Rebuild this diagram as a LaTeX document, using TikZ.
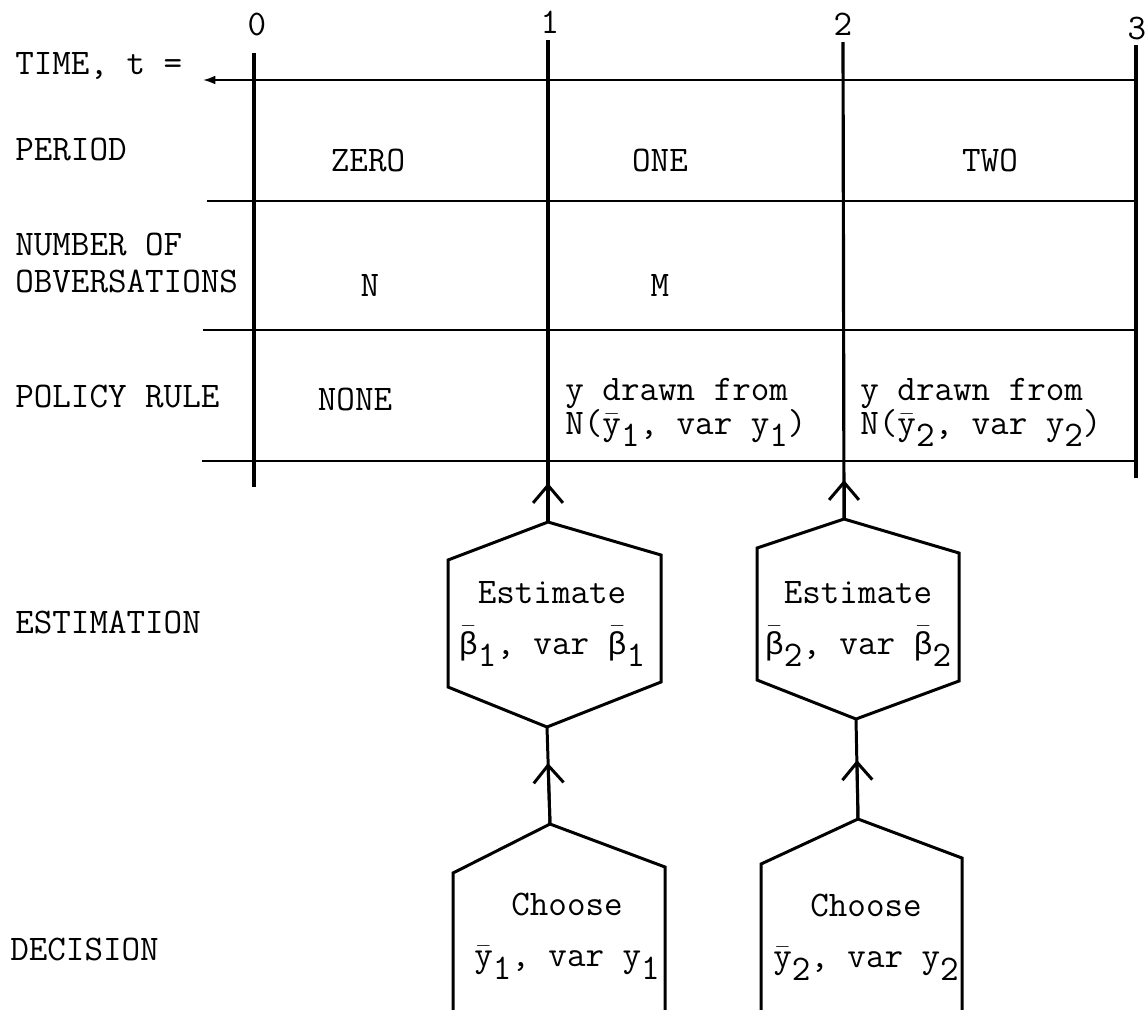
\documentclass[tikz,border=0pt]{standalone}
\usepackage{fontspec}
\newfontfamily\greekf{Liberation Mono}
\usetikzlibrary{arrows.meta}
\newcommand{\ovl}[1]{\ensuremath{\bar{\mbox{#1}}}}
\newcommand{\lo}[1]{\raisebox{-0.35em}{#1}}
\newcommand{\bet}{{\greekf\fontsize{18}{21}\selectfont β}}
\begin{document}
\begin{tikzpicture}[x=0.02cm, y=-0.02cm, font=\ttfamily\fontsize{20.5}{24}\selectfont,
  txt/.style={inner sep=0pt},
  lbl/.style={inner sep=0pt, anchor=base west},
  hline/.style={line width=1.1pt},
  vline/.style={line width=1.8pt},
  box/.style={line width=1.7pt, line join=miter},
  up/.style={line width=1.7pt, -{Straight Barb[length=10pt,width=17pt]}}]
\useasboundingbox (0,0) rectangle (1148,1009);
% time marks
\node[txt] (t0) at (257,24) {0};
\node[txt] (t1) at (550,22) {1};
\node[txt] (t2) at (843,24) {2};
\node[txt] (t3) at (1137,28) {3};
% row labels
\node[lbl] (ltime) at (15,74) {TIME, t =};
\node[lbl] (lperiod) at (15,160) {PERIOD};
\node[lbl] (lnum) at (15,255) {NUMBER OF};
\node[lbl] (lobs) at (15,292) {OBVERSATIONS};
\node[lbl] (lpolicy) at (15,407) {POLICY RULE};
\node[lbl] (lest) at (15,633) {ESTIMATION};
\node[lbl] (ldec) at (10,960) {DECISION};
% table
\coordinate (c0t) at (254,53);
\coordinate (c0b) at (254,487);
\coordinate (c1t) at (548,40);
\coordinate (c2t) at (843,42);
\coordinate (c3t) at (1136,45);
\coordinate (c3b) at (1136,478);
\draw[hline, {Latex[length=7pt,width=5pt]}-] (203,80) -- (1136,80);
\draw[hline] (207,201) -- (1136,201);
\draw[hline] (203,330) -- (1136,330);
\draw[hline] (202,461) -- (1136,461);
\draw[vline] (c0t) -- (c0b);
\draw[vline] (c3t) -- (c3b);
% cells
\node[txt] (zero) at (368,160) {ZERO};
\node[txt] (one) at (660,160) {ONE};
\node[txt] (two) at (990,160) {TWO};
\node[txt] (nobs) at (370,285) {N};
\node[txt] (mobs) at (660,285) {M};
\node[txt] (none) at (355,399) {NONE};
\node[lbl] (pol1a) at (565,400) {y drawn from};
\node[lbl] (pol1b) at (565,434) {N(\ovl{y}\lo{1}, var y\lo{1})};
\node[lbl] (pol2a) at (860,400) {y drawn from};
\node[lbl] (pol2b) at (860,434) {N(\ovl{y}\lo{2}, var y\lo{2})};
% estimation
\coordinate (e1n) at (548,522);
\coordinate (e1ne) at (661,555);
\coordinate (e1se) at (661,682);
\coordinate (e1s) at (547,727);
\coordinate (e1sw) at (448,687);
\coordinate (e1nw) at (448,560);
\draw[box] (e1n) -- (e1ne) -- (e1se) -- (e1s) -- (e1sw) -- (e1nw) -- cycle;
\node[txt, align=center] (est1) at (552,624) {Estimate\\[5pt]\ovl{\bet}\lo{1}, var \ovl{\bet}\lo{1}};
\coordinate (e2n) at (844,519);
\coordinate (e2ne) at (959,553);
\coordinate (e2se) at (959,681);
\coordinate (e2s) at (856,719);
\coordinate (e2sw) at (757,680);
\coordinate (e2nw) at (757,548);
\draw[box] (e2n) -- (e2ne) -- (e2se) -- (e2s) -- (e2sw) -- (e2nw) -- cycle;
\node[txt, align=center] (est2) at (858,624) {Estimate\\[5pt]\ovl{\bet}\lo{2}, var \ovl{\bet}\lo{2}};
% decision
\coordinate (d1n) at (550,824);
\coordinate (d1ne) at (665,867);
\coordinate (d1se) at (665,1012);
\coordinate (d1sw) at (453,1012);
\coordinate (d1nw) at (453,873);
\draw[box] (d1sw) -- (d1nw) -- (d1n) -- (d1ne) -- (d1se);
\node[txt, align=center] (dec1) at (567,936) {Choose\\[5pt]\ovl{y}\lo{1}, var y\lo{1}};
\coordinate (d2n) at (858,819);
\coordinate (d2ne) at (962,858);
\coordinate (d2se) at (962,1012);
\coordinate (d2sw) at (761,1012);
\coordinate (d2nw) at (761,864);
\draw[box] (d2sw) -- (d2nw) -- (d2n) -- (d2ne) -- (d2se);
\node[txt, align=center] (dec2) at (866,937) {Choose\\[5pt]\ovl{y}\lo{2}, var y\lo{2}};
% time lines and flow
\coordinate (a1) at (548,483);
\coordinate (a2) at (844,480);
\coordinate (b1) at (548,763);
\coordinate (b2) at (857,760);
\draw[vline] (c1t) -- (e1n);
\draw[vline] (c2t) -- (e2n);
\draw[up] (e1n) -- (a1);
\draw[up] (e2n) -- (a2);
\draw[box] (e1s) -- (d1n);
\draw[box] (e2s) -- (d2n);
\draw[up] (d1n) -- (b1);
\draw[up] (d2n) -- (b2);
\end{tikzpicture}
\end{document}
